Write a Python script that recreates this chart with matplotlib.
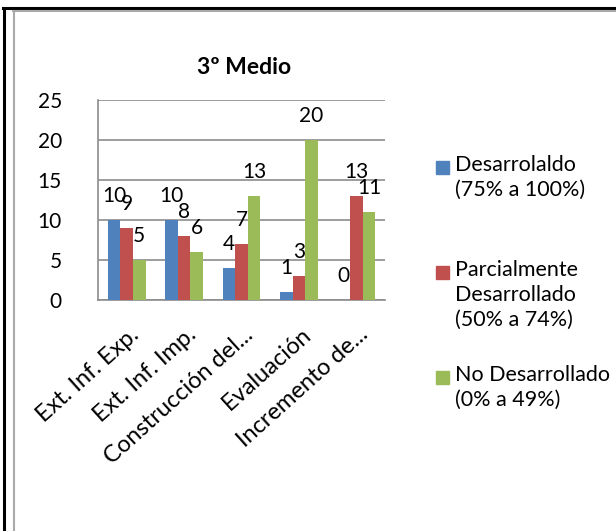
import matplotlib.pyplot as plt
import matplotlib.transforms as mtransforms
from matplotlib.lines import Line2D
from matplotlib.patches import Rectangle
import numpy as np

plt.rcParams['font.family'] = ['Lato', 'DejaVu Sans']

# data
categories = ['Ext. Inf. Exp.', 'Ext. Inf. Imp.', 'Construcción del...',
              'Evaluación', 'Incremento de...']
desarrollado = [10, 10, 4, 1, 0]
parcial = [9, 8, 7, 3, 13]
no_desarrollado = [5, 6, 13, 20, 11]
series_names = ['Desarrolaldo\n(75% a 100%)',
                'Parcialmente\nDesarrollado\n(50% a 74%)',
                'No Desarrollado\n(0% a 49%)']
colors = ['#4F81BD', '#C0504D', '#9BBB59']

W, H = 616, 531
fig = plt.figure(figsize=(W / 100, H / 100), dpi=100)
ax = fig.add_axes([98 / W, 1 - 300 / H, (385 - 98) / W, 200 / H])

x = np.arange(len(categories))
bw = 0.22
all_series = [desarrollado, parcial, no_desarrollado]
for i, (vals, col) in enumerate(zip(all_series, colors)):
    pos = x + (i - 1) * bw
    ax.bar(pos, vals, width=bw, color=col, zorder=3)
    for px, v in zip(pos, vals):
        ax.annotate(str(v), (px, v), xytext=(0, 17), textcoords='offset points',
                    ha='center', va='center', fontsize=15, zorder=4)

ax.set_xlim(-0.5, len(categories) - 0.5)
ax.set_ylim(0, 25)
ax.set_yticks(range(0, 26, 5))
ax.yaxis.grid(True, color='#8c8c8c', linewidth=1.2, zorder=0)
ax.tick_params(axis='y', length=0, pad=26, labelsize=15)
ax.tick_params(axis='x', length=0, pad=14, labelsize=17)
ax.set_xticks(x)
ax.set_xticklabels(categories, rotation=42, ha='right', va='center',
                   rotation_mode='anchor')
shift = mtransforms.ScaledTranslation(9 / 100, -12 / 100, fig.dpi_scale_trans)
for lbl in ax.get_xticklabels():
    lbl.set_transform(lbl.get_transform() + shift)
for s in ['top', 'right']:
    ax.spines[s].set_visible(False)
for s in ['left', 'bottom']:
    ax.spines[s].set_color('#8c8c8c')
    ax.spines[s].set_linewidth(1.2)

fig.text(244 / W, 1 - 68 / H, '3º Medio', ha='center', va='center',
         fontsize=16.5, fontweight='bold')

# legend drawn by hand to match the spacing
leg_y = [167, 272, 377]
for name, col, y in zip(series_names, colors, leg_y):
    fig.patches.append(Rectangle((436 / W, 1 - (y + 7) / H), 13 / W, 13 / H,
                                 transform=fig.transFigure, color=col))
    fig.text(455 / W, 1 - (y - 12) / H, name, ha='left', va='top',
             fontsize=15.5, linespacing=1.3)

# page borders
fig.add_artist(Line2D([3 / W, 1], [1 - 8 / H, 1 - 8 / H], color='black', lw=2.2,
                      transform=fig.transFigure))
fig.add_artist(Line2D([4 / W, 4 / W], [0, 1 - 8 / H], color='black', lw=2.2,
                      transform=fig.transFigure))
fig.add_artist(Line2D([13 / W, 1], [1 - 10.5 / H, 1 - 10.5 / H], color='#aaaaaa',
                      lw=1.5, transform=fig.transFigure))
fig.add_artist(Line2D([13.5 / W, 13.5 / W], [0, 1 - 10.5 / H], color='#aaaaaa',
                      lw=1.5, transform=fig.transFigure))

fig.savefig('out.png', dpi=100)
